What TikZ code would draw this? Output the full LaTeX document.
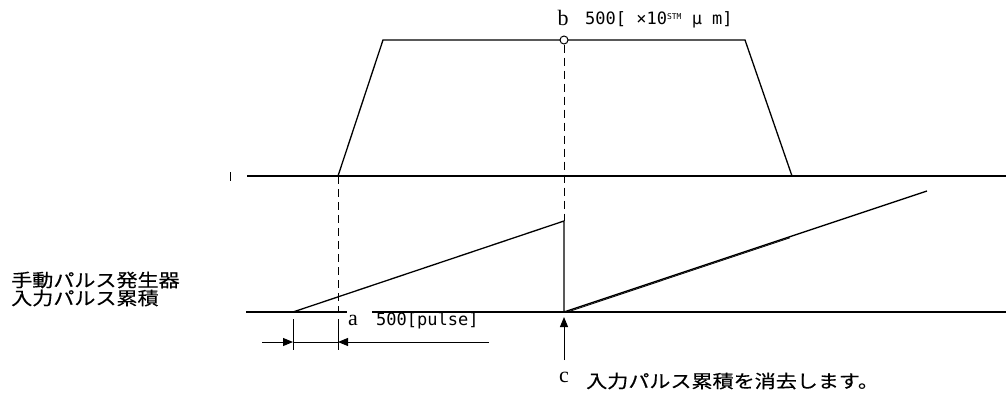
\documentclass[tikz,border=0pt]{standalone}
\usepackage{fontspec}
\usetikzlibrary{arrows.meta}
\newfontfamily\jpfont[FakeStretch=1.17,FakeBold=0.4]{Noto Sans CJK JP}
\newfontfamily\monofont{DejaVu Sans Mono}
\newfontfamily\serfont{Liberation Serif}
\begin{document}
\begin{tikzpicture}[x=1pt,y=-1pt,
  base/.style={line width=1.8pt},
  curve/.style={line width=1.3pt},
  guide/.style={line width=1pt,dash pattern=on 8pt off 5pt},
  thinline/.style={line width=1pt},
  jp/.style={font=\jpfont\fontsize{18}{18}\selectfont,inner sep=0pt},
  mono/.style={font=\monofont\fontsize{17}{18}\selectfont,inner sep=0pt},
  ltr/.style={font=\serfont\fontsize{22}{22}\selectfont,inner sep=0pt},
  tip/.style={-{Triangle[length=10pt,width=8pt]}}]
\useasboundingbox (0,0) rectangle (1006,394);
% coordinates
\coordinate (tick1) at (230,172);
\coordinate (tick2) at (230,181);
\coordinate (t0) at (247,176);
\coordinate (t1) at (1006,176);
\coordinate (p0) at (338,176);
\coordinate (p1) at (383,40);
\coordinate (p2) at (745,40);
\coordinate (p3) at (792,176);
\coordinate (b0) at (246,312);
\coordinate (bg1) at (347,312);
\coordinate (bg2) at (372,312);
\coordinate (b1) at (1006,312);
\coordinate (r1s) at (293,312);
\coordinate (r1e) at (564,221);
\coordinate (r1b) at (564,312);
\coordinate (r2e) at (927,191);
\coordinate (r2d0) at (566,312.5);
\coordinate (r2d1) at (790,237.8);
\coordinate (d1) at (338,312);
\coordinate (e1a) at (293,319);
\coordinate (e1b) at (293,350);
\coordinate (e2a) at (338,319);
\coordinate (e2b) at (338,350);
\coordinate (dl) at (262,342);
\coordinate (dm1) at (293,342);
\coordinate (dm2) at (338,342);
\coordinate (dr) at (489,342);
\coordinate (c0) at (564,360);
\coordinate (c1) at (564,317);
% axes
\draw[thinline] (tick1) -- (tick2);
\draw[base] (t0) -- (t1);
\draw[base] (b0) -- (bg1);
\draw[base] (bg2) -- (b1);
% trapezoid
\draw[curve] (p0) -- (p1) -- (p2) -- (p3);
% ramps
\draw[curve] (r1s) -- (r1e) -- (r1b) -- (r2e);
\draw[line width=0.8pt] (r2d0) -- (r2d1);
% guides
\node[circle,draw,line width=1pt,fill=white,minimum size=8pt,inner sep=0pt] (peak) at (564,40) {};
\draw[guide] (peak.south) -- (r1e);
\draw[guide] (p0) -- (d1);
% dimension
\draw[thinline] (e1a) -- (e1b);
\draw[thinline] (e2a) -- (e2b);
\draw[thinline] (dm1) -- (dm2);
\draw[thinline,tip] (dl) -- (dm1);
\draw[thinline,tip] (dr) -- (dm2);
\draw[thinline,tip] (c0) -- (c1);
% labels
\node[ltr] (lb) at (563,18) {b};
\node[mono,anchor=west] (lbt) at (585,20) {500[ ×10\raisebox{5pt}{\fontsize{8}{8}\selectfont STM} μ m]};
\node[ltr] (la) at (353,320) {a};
\node[mono,anchor=west] (lat) at (376,321) {500[pulse]};
\node[ltr] (lc) at (564,377) {c};
\node[jp,anchor=west] (lct) at (586,381) {入力パルス累積を消去します。};
\node[jp,anchor=west,align=left] (lleft) at (11,289) {手動パルス発生器\\入力パルス累積};
\end{tikzpicture}
\end{document}
